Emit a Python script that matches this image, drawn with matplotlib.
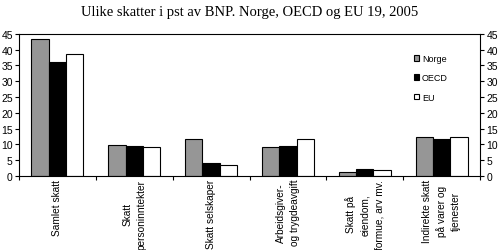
import numpy as np
import matplotlib
matplotlib.use("Agg")
import matplotlib.pyplot as plt

categories = [
    "Samlet skatt",
    "Skatt\npersoninntekter",
    "Skatt selskaper",
    "Arbeidsgiver-\nog trygdeavgift",
    "Skatt på\neiendom,\nformue, arv mv.",
    "Indirekte skatt\npå varer og\ntjenester",
]
norge = [43.5, 9.9, 11.8, 9.1, 1.3, 12.3]
oecd = [36.1, 9.4, 4.0, 9.5, 2.2, 11.7]
eu = [38.6, 9.1, 3.4, 11.6, 1.8, 12.3]
series_names = ["Norge", "OECD", "EU"]

plt.rcParams["font.family"] = ["Liberation Sans", "DejaVu Sans"]

fig = plt.figure(figsize=(5.0, 2.51), dpi=100)
ax = fig.add_axes([0.038, 0.295, 0.922, 0.566])

x = np.arange(len(categories))
w = 0.226
colors = ["#969696", "#000000", "#ffffff"]
for i, (vals, name) in enumerate(zip([norge, oecd, eu], series_names)):
    ax.bar(x + (i - 1) * w, vals, w, color=colors[i], edgecolor="black",
           linewidth=0.8, label=name)

ax.set_xlim(-0.5, len(categories) - 0.5)
ax.set_ylim(0, 45)
ax.set_yticks(range(0, 46, 5))
ax.tick_params(axis="y", which="both", left=True, right=True, labelleft=True,
               labelright=True, labelsize=7.5, length=3, width=0.8, pad=1.5)

ax.set_xticks(x)
ax.set_xticklabels(categories, rotation=90, fontsize=7.3, va="top", ha="center",
                   multialignment="center", linespacing=1.5)
ax.tick_params(axis="x", which="major", length=0, pad=2)
ax.set_xticks(np.arange(-0.5, len(categories), 1), minor=True)
ax.tick_params(axis="x", which="minor", length=3, width=0.8)

for sp in ax.spines.values():
    sp.set_linewidth(0.8)

ax.legend(loc="upper left", bbox_to_anchor=(0.847, 0.89), frameon=False,
          fontsize=6.5, handlelength=0.6, handleheight=0.6, handletextpad=0.3,
          labelspacing=1.15, borderpad=0)

fig.suptitle("Ulike skatter i pst av BNP. Norge, OECD og EU 19, 2005",
             family=["Liberation Serif", "DejaVu Serif"], fontsize=10.5, y=0.978)

fig.savefig("out.png", dpi=100)
plt.close(fig)
